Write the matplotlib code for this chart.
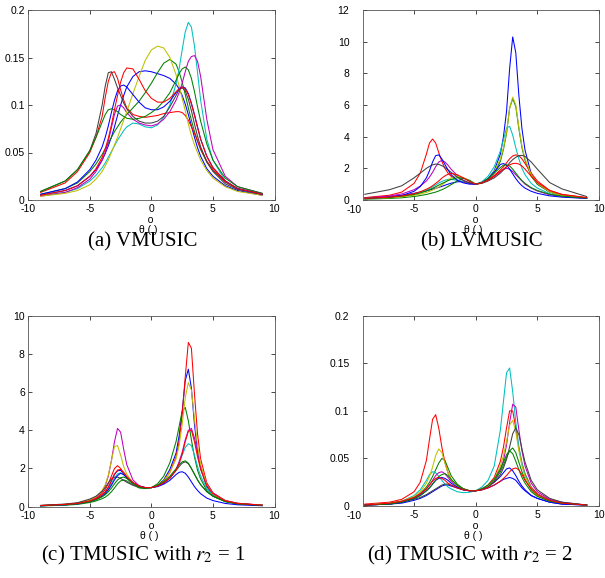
import numpy as np
import matplotlib
matplotlib.use("Agg")
import matplotlib.pyplot as plt
from matplotlib.transforms import blended_transform_factory

plt.rcParams.update({"font.family": "Liberation Sans", "font.size": 7.5,
                     "mathtext.fontset": "stix", "axes.linewidth": 0.6})

W, H = 605, 578
C = {"b": "#0000FF", "g": "#008000", "r": "#FF0000", "c": "#00BFBF",
     "m": "#BF00BF", "y": "#BFBF00", "k": "#404040"}

THETA = [-9, -7, -6, -5,
         -4.5, -4, -3.75, -3.5, -3.25, -3, -2.75, -2.5, -2.25, -2,
         -1.5, -1, -0.5, 0, 0.5, 1, 1.5, 2,
         2.25, 2.5, 2.75, 3, 3.25, 3.5, 3.75, 4,
         4.5, 5, 6, 7, 9]

# ---- (a) VMUSIC ----
vm_blue1 = [0.005, 0.010, 0.015, 0.025,
            0.032, 0.042, 0.049, 0.057, 0.066, 0.077, 0.089, 0.100, 0.110, 0.119,
            0.130, 0.135, 0.136, 0.135, 0.133, 0.131, 0.128, 0.122,
            0.117, 0.110, 0.101, 0.090, 0.078, 0.066, 0.055, 0.046,
            0.033, 0.025, 0.015, 0.010, 0.005]
vm_green1 = [0.006, 0.012, 0.018, 0.030,
             0.038, 0.048, 0.054, 0.060, 0.066, 0.072, 0.077, 0.082, 0.086, 0.090,
             0.097, 0.104, 0.113, 0.123, 0.134, 0.144, 0.148, 0.143,
             0.135, 0.124, 0.111, 0.097, 0.084, 0.072, 0.062, 0.053,
             0.040, 0.031, 0.019, 0.012, 0.006]
vm_red1 = [0.008, 0.018, 0.030, 0.050,
           0.066, 0.088, 0.108, 0.125, 0.134, 0.135, 0.128, 0.116, 0.105, 0.097,
           0.090, 0.088, 0.087, 0.088, 0.089, 0.091, 0.092, 0.093,
           0.093, 0.092, 0.089, 0.084, 0.077, 0.070, 0.062, 0.054,
           0.041, 0.032, 0.019, 0.012, 0.006]
vm_cyan = [0.005, 0.008, 0.012, 0.020,
           0.026, 0.034, 0.039, 0.045, 0.051, 0.057, 0.063, 0.068, 0.073, 0.077,
           0.081, 0.080, 0.077, 0.076, 0.079, 0.087, 0.100, 0.122,
           0.138, 0.158, 0.177, 0.187, 0.182, 0.162, 0.134, 0.105,
           0.064, 0.042, 0.020, 0.012, 0.006]
vm_magenta = [0.004, 0.008, 0.013, 0.022,
              0.030, 0.042, 0.050, 0.062, 0.076, 0.090, 0.099, 0.100, 0.097, 0.092,
              0.085, 0.081, 0.079, 0.078, 0.080, 0.085, 0.093, 0.105,
              0.113, 0.123, 0.135, 0.146, 0.151, 0.152, 0.146, 0.130,
              0.085, 0.053, 0.025, 0.014, 0.007]
vm_yellow = [0.004, 0.007, 0.010, 0.016,
             0.022, 0.030, 0.036, 0.042, 0.050, 0.058, 0.066, 0.075, 0.084, 0.093,
             0.112, 0.130, 0.147, 0.158, 0.162, 0.160, 0.150, 0.132,
             0.120, 0.107, 0.094, 0.080, 0.068, 0.058, 0.050, 0.042,
             0.031, 0.023, 0.014, 0.009, 0.005]
vm_black = [0.009, 0.020, 0.032, 0.052,
            0.070, 0.100, 0.120, 0.134, 0.135, 0.127, 0.118, 0.110, 0.102, 0.096,
            0.088, 0.083, 0.081, 0.081, 0.083, 0.088, 0.098, 0.110,
            0.116, 0.118, 0.115, 0.106, 0.094, 0.080, 0.067, 0.056,
            0.040, 0.030, 0.017, 0.011, 0.006]
vm_blue2 = [0.006, 0.012, 0.019, 0.032,
            0.042, 0.056, 0.066, 0.078, 0.092, 0.105, 0.115, 0.120, 0.121, 0.119,
            0.111, 0.103, 0.097, 0.095, 0.095, 0.098, 0.104, 0.113,
            0.117, 0.119, 0.118, 0.112, 0.102, 0.090, 0.077, 0.064,
            0.046, 0.034, 0.020, 0.012, 0.006]
vm_green2 = [0.009, 0.020, 0.032, 0.052,
             0.066, 0.082, 0.090, 0.095, 0.096, 0.095, 0.093, 0.090, 0.088, 0.086,
             0.085, 0.086, 0.088, 0.092, 0.097, 0.104, 0.113, 0.126,
             0.133, 0.138, 0.140, 0.137, 0.128, 0.114, 0.098, 0.083,
             0.059, 0.042, 0.023, 0.014, 0.007]
vm_red2 = [0.005, 0.010, 0.015, 0.025,
           0.033, 0.045, 0.054, 0.065, 0.079, 0.095, 0.110, 0.124, 0.134, 0.139,
           0.138, 0.127, 0.115, 0.107, 0.103, 0.103, 0.107, 0.114,
           0.117, 0.119, 0.117, 0.111, 0.101, 0.089, 0.076, 0.064,
           0.046, 0.034, 0.020, 0.012, 0.006]

# ---- (b) LVMUSIC ----
lv_blue1 = [0.13, 0.22, 0.30, 0.42,
            0.50, 0.58, 0.63, 0.68, 0.74, 0.80, 0.86, 0.93, 1.00, 1.06,
            1.15, 1.16, 1.09, 1.00, 1.10, 1.35, 1.85, 2.90,
            4.00, 5.60, 8.30, 10.3, 9.30, 6.60, 4.50, 3.15,
            1.65, 1.00, 0.50, 0.28, 0.13]
lv_green1 = [0.05, 0.10, 0.14, 0.22,
             0.28, 0.35, 0.40, 0.45, 0.50, 0.57, 0.65, 0.74, 0.85, 0.97,
             1.20, 1.38, 1.25, 1.00, 1.10, 1.30, 1.70, 2.45,
             3.20, 4.20, 5.80, 6.40, 5.90, 4.50, 3.30, 2.50,
             1.50, 1.00, 0.50, 0.28, 0.13]
lv_red1 = [0.15, 0.30, 0.50, 1.05,
           1.70, 2.90, 3.60, 3.85, 3.60, 3.00, 2.45, 2.00, 1.70, 1.50,
           1.25, 1.12, 1.05, 1.00, 1.10, 1.28, 1.55, 1.90,
           2.10, 2.35, 2.60, 2.78, 2.85, 2.80, 2.60, 2.30,
           1.70, 1.20, 0.60, 0.35, 0.15]
lv_cyan = [0.10, 0.18, 0.25, 0.38,
           0.48, 0.62, 0.72, 0.83, 0.95, 1.07, 1.17, 1.25, 1.30, 1.30,
           1.25, 1.17, 1.08, 1.00, 1.15, 1.50, 2.10, 3.10,
           3.80, 4.55, 4.65, 4.10, 3.30, 2.60, 2.00, 1.60,
           1.05, 0.75, 0.40, 0.25, 0.12]
lv_magenta = [0.12, 0.25, 0.38, 0.65,
              0.88, 1.20, 1.45, 1.75, 2.10, 2.40, 2.50, 2.40, 2.20, 1.95,
              1.55, 1.25, 1.08, 1.00, 1.08, 1.25, 1.50, 1.80,
              1.93, 2.00, 1.95, 1.80, 1.60, 1.40, 1.20, 1.00,
              0.75, 0.57, 0.33, 0.22, 0.10]
lv_yellow = [0.08, 0.14, 0.20, 0.30,
             0.38, 0.48, 0.55, 0.63, 0.72, 0.82, 0.95, 1.10, 1.25, 1.40,
             1.50, 1.40, 1.20, 1.00, 1.10, 1.35, 1.80, 2.60,
             3.30, 4.30, 5.80, 6.50, 6.00, 4.60, 3.40, 2.60,
             1.60, 1.05, 0.50, 0.28, 0.12]
lv_black = [0.36, 0.65, 0.90, 1.40,
            1.70, 2.00, 2.12, 2.22, 2.27, 2.25, 2.17, 2.05, 1.90, 1.75,
            1.45, 1.22, 1.07, 1.00, 1.05, 1.20, 1.40, 1.70,
            1.90, 2.10, 2.35, 2.55, 2.70, 2.80, 2.82, 2.75,
            2.40, 1.95, 1.10, 0.70, 0.22]
lv_blue2 = [0.08, 0.18, 0.28, 0.55,
            0.85, 1.40, 1.85, 2.40, 2.80, 2.85, 2.60, 2.25, 1.90, 1.60,
            1.25, 1.08, 1.00, 1.00, 1.10, 1.35, 1.75, 2.25,
            2.30, 2.20, 1.95, 1.65, 1.35, 1.10, 0.90, 0.75,
            0.55, 0.42, 0.26, 0.18, 0.10]
lv_green2 = [0.10, 0.17, 0.24, 0.35,
             0.45, 0.57, 0.65, 0.74, 0.84, 0.94, 1.04, 1.13, 1.22, 1.30,
             1.40, 1.38, 1.20, 1.00, 1.10, 1.35, 1.70, 2.05,
             2.20, 2.22, 2.15, 1.95, 1.70, 1.45, 1.22, 1.05,
             0.78, 0.60, 0.36, 0.24, 0.12]
lv_red2 = [0.10, 0.18, 0.26, 0.40,
           0.52, 0.68, 0.78, 0.90, 1.05, 1.20, 1.38, 1.52, 1.63, 1.68,
           1.60, 1.40, 1.17, 1.00, 1.08, 1.25, 1.50, 1.80,
           1.95, 2.10, 2.22, 2.30, 2.32, 2.27, 2.15, 1.95,
           1.50, 1.10, 0.60, 0.35, 0.15]

# ---- (c) TMUSIC, r2 = 1 ----
t1_red1 = [0.06, 0.12, 0.18, 0.32,
           0.45, 0.70, 0.90, 1.20, 1.60, 2.00, 2.15, 2.00, 1.75, 1.50,
           1.20, 1.05, 1.00, 1.00, 1.10, 1.35, 1.80, 2.60,
           3.40, 4.80, 6.80, 8.60, 8.30, 5.90, 3.80, 2.50,
           1.25, 0.72, 0.32, 0.18, 0.08]
t1_blue1 = [0.05, 0.10, 0.15, 0.28,
            0.40, 0.60, 0.76, 1.00, 1.35, 1.70, 1.88, 1.90, 1.75, 1.55,
            1.25, 1.07, 1.00, 1.00, 1.12, 1.40, 1.95, 2.80,
            3.70, 5.00, 6.60, 7.20, 6.20, 4.30, 2.90, 2.00,
            1.05, 0.62, 0.28, 0.15, 0.07]
t1_green1 = [0.04, 0.08, 0.12, 0.22,
             0.30, 0.42, 0.50, 0.62, 0.78, 0.98, 1.20, 1.35, 1.40, 1.35,
             1.15, 0.98, 0.95, 1.00, 1.20, 1.60, 2.30, 3.40,
             4.20, 5.00, 5.20, 4.50, 3.50, 2.60, 1.90, 1.45,
             0.85, 0.55, 0.26, 0.15, 0.07]
t1_cyan = [0.05, 0.10, 0.15, 0.27,
           0.38, 0.56, 0.70, 0.92, 1.20, 1.50, 1.72, 1.78, 1.68, 1.50,
           1.20, 1.05, 1.00, 1.00, 1.08, 1.25, 1.50, 1.95,
           2.30, 2.70, 3.10, 3.30, 3.20, 2.70, 2.10, 1.60,
           0.95, 0.60, 0.28, 0.16, 0.07]
t1_magenta = [0.06, 0.12, 0.18, 0.35,
              0.50, 0.82, 1.10, 1.60, 2.40, 3.40, 4.10, 3.90, 3.00, 2.20,
              1.40, 1.10, 1.00, 1.00, 1.08, 1.25, 1.50, 1.95,
              2.35, 2.85, 3.50, 4.00, 4.10, 3.60, 2.80, 2.10,
              1.20, 0.72, 0.32, 0.18, 0.08]
t1_yellow = [0.06, 0.12, 0.18, 0.35,
             0.52, 0.85, 1.15, 1.65, 2.40, 3.15, 3.20, 2.70, 2.10, 1.70,
             1.25, 1.05, 1.00, 1.00, 1.10, 1.35, 1.80, 2.50,
             3.20, 4.30, 5.70, 6.50, 6.10, 4.60, 3.20, 2.20,
             1.15, 0.67, 0.30, 0.16, 0.07]
t1_black = [0.07, 0.14, 0.21, 0.40,
            0.55, 0.80, 1.00, 1.25, 1.45, 1.55, 1.55, 1.48, 1.38, 1.28,
            1.12, 1.03, 1.00, 1.00, 1.08, 1.25, 1.50, 1.90,
            2.10, 2.28, 2.35, 2.25, 2.00, 1.70, 1.40, 1.15,
            0.80, 0.55, 0.28, 0.16, 0.07]
t1_blue2 = [0.05, 0.10, 0.15, 0.27,
            0.38, 0.55, 0.68, 0.88, 1.12, 1.40, 1.63, 1.75, 1.68, 1.52,
            1.25, 1.08, 1.00, 1.00, 1.05, 1.18, 1.38, 1.68,
            1.80, 1.83, 1.75, 1.55, 1.30, 1.05, 0.85, 0.68,
            0.45, 0.32, 0.17, 0.10, 0.05]
t1_green2 = [0.05, 0.10, 0.15, 0.26,
             0.36, 0.52, 0.63, 0.78, 0.97, 1.20, 1.40, 1.52, 1.55, 1.48,
             1.22, 1.02, 0.96, 1.00, 1.12, 1.32, 1.60, 1.98,
             2.20, 2.35, 2.40, 2.28, 2.00, 1.70, 1.40, 1.15,
             0.78, 0.55, 0.27, 0.15, 0.07]
t1_red2 = [0.06, 0.12, 0.17, 0.30,
           0.42, 0.62, 0.78, 1.02, 1.35, 1.70, 1.92, 1.95, 1.80, 1.58,
           1.27, 1.08, 1.00, 1.00, 1.08, 1.25, 1.50, 1.90,
           2.25, 2.75, 3.40, 3.95, 4.00, 3.40, 2.60, 1.95,
           1.10, 0.68, 0.31, 0.17, 0.08]

# ---- (d) TMUSIC, r2 = 2 ----
t2_blue1 = [0.001, 0.002, 0.003, 0.006,
            0.008, 0.011, 0.013, 0.015, 0.017, 0.019, 0.021, 0.022, 0.022, 0.021,
            0.019, 0.017, 0.016, 0.016, 0.018, 0.021, 0.025, 0.031,
            0.035, 0.039, 0.040, 0.037, 0.032, 0.026, 0.021, 0.017,
            0.011, 0.008, 0.004, 0.002, 0.001]
t2_green1 = [0.001, 0.003, 0.005, 0.009,
             0.013, 0.020, 0.025, 0.031, 0.038, 0.045, 0.050, 0.048, 0.040, 0.032,
             0.023, 0.018, 0.016, 0.016, 0.018, 0.021, 0.026, 0.036,
             0.043, 0.051, 0.058, 0.061, 0.056, 0.046, 0.036, 0.028,
             0.017, 0.011, 0.005, 0.003, 0.001]
t2_red1 = [0.002, 0.004, 0.007, 0.015,
           0.025, 0.048, 0.070, 0.091, 0.096, 0.082, 0.062, 0.046, 0.035, 0.028,
           0.021, 0.018, 0.016, 0.016, 0.018, 0.022, 0.030, 0.047,
           0.062, 0.082, 0.100, 0.100, 0.082, 0.061, 0.045, 0.034,
           0.020, 0.013, 0.006, 0.003, 0.001]
t2_cyan = [0.001, 0.003, 0.005, 0.011,
           0.017, 0.027, 0.033, 0.036, 0.035, 0.031, 0.027, 0.023, 0.020, 0.018,
           0.015, 0.014, 0.0145, 0.016, 0.020, 0.027, 0.042, 0.080,
           0.110, 0.140, 0.145, 0.120, 0.088, 0.062, 0.045, 0.033,
           0.019, 0.012, 0.006, 0.003, 0.001]
t2_magenta = [0.001, 0.002, 0.004, 0.008,
              0.012, 0.018, 0.022, 0.027, 0.032, 0.035, 0.036, 0.034, 0.030, 0.026,
              0.021, 0.018, 0.016, 0.016, 0.018, 0.021, 0.027, 0.038,
              0.048, 0.064, 0.088, 0.107, 0.104, 0.080, 0.058, 0.042,
              0.024, 0.015, 0.007, 0.004, 0.001]
t2_yellow = [0.001, 0.003, 0.005, 0.010,
             0.015, 0.024, 0.031, 0.041, 0.053, 0.060, 0.056, 0.045, 0.035, 0.028,
             0.021, 0.018, 0.016, 0.016, 0.018, 0.021, 0.028, 0.042,
             0.053, 0.068, 0.085, 0.090, 0.078, 0.058, 0.042, 0.031,
             0.018, 0.011, 0.005, 0.003, 0.001]
t2_black = [0.001, 0.002, 0.004, 0.007,
            0.009, 0.012, 0.014, 0.016, 0.018, 0.020, 0.022, 0.023, 0.023, 0.022,
            0.019, 0.017, 0.016, 0.016, 0.017, 0.020, 0.025, 0.033,
            0.040, 0.049, 0.062, 0.076, 0.082, 0.075, 0.060, 0.046,
            0.027, 0.017, 0.008, 0.004, 0.001]
t2_blue2 = [0.001, 0.002, 0.004, 0.008,
            0.011, 0.016, 0.019, 0.023, 0.027, 0.029, 0.030, 0.029, 0.027, 0.024,
            0.020, 0.017, 0.016, 0.016, 0.017, 0.019, 0.022, 0.026,
            0.028, 0.029, 0.030, 0.029, 0.027, 0.023, 0.019, 0.016,
            0.011, 0.008, 0.004, 0.002, 0.001]
t2_green2 = [0.001, 0.002, 0.004, 0.008,
             0.011, 0.016, 0.019, 0.023, 0.027, 0.031, 0.033, 0.034, 0.032, 0.028,
             0.022, 0.018, 0.016, 0.016, 0.018, 0.022, 0.028, 0.039,
             0.046, 0.054, 0.058, 0.055, 0.047, 0.038, 0.030, 0.024,
             0.015, 0.010, 0.005, 0.003, 0.001]
t2_red2 = [0.001, 0.003, 0.005, 0.009,
           0.013, 0.018, 0.022, 0.026, 0.029, 0.030, 0.029, 0.027, 0.024, 0.022,
           0.019, 0.017, 0.016, 0.016, 0.017, 0.019, 0.022, 0.026,
           0.029, 0.032, 0.036, 0.039, 0.040, 0.038, 0.033, 0.027,
           0.018, 0.012, 0.006, 0.003, 0.001]

PANELS = [
    {"curves": [("b", vm_blue1), ("g", vm_green1), ("r", vm_red1), ("c", vm_cyan),
                ("m", vm_magenta), ("y", vm_yellow), ("k", vm_black),
                ("b", vm_blue2), ("g", vm_green2), ("r", vm_red2)],
     "yticks": [0, 0.05, 0.1, 0.15, 0.2], "ylabels": ["0", "0.05", "0.1", "0.15", "0.2"],
     "box": (28.3, 274.5, 10, 200), "x0": -10, "cap": "(a) VMUSIC", "cap_xy": (143, 242),
     "lab_xy": (148, 225), "ypad": 2.5},
    {"curves": [("b", lv_blue1), ("g", lv_green1), ("r", lv_red1), ("c", lv_cyan),
                ("m", lv_magenta), ("y", lv_yellow), ("k", lv_black),
                ("b", lv_blue2), ("g", lv_green2), ("r", lv_red2)],
     "yticks": [0, 2, 4, 6, 8, 10, 12], "ylabels": ["0", "2", "4", "6", "8", "10", "12"],
     "box": (363.3, 599, 10, 200), "x0": -9.12, "cap": "(b) LVMUSIC", "cap_xy": (482, 242),
     "lab_xy": (473, 225), "ypad": 10},
    {"curves": [("b", t1_blue1), ("g", t1_green1), ("r", t1_red1), ("c", t1_cyan),
                ("m", t1_magenta), ("y", t1_yellow), ("k", t1_black),
                ("b", t1_blue2), ("g", t1_green2), ("r", t1_red2)],
     "yticks": [0, 2, 4, 6, 8, 10], "ylabels": ["0", "2", "4", "6", "8", "10"],
     "box": (28.3, 274.5, 315.7, 506.7), "x0": -10,
     "cap": "(c) TMUSIC with $r_2$ = 1", "cap_xy": (143, 555), "lab_xy": (149, 531),
     "ypad": 2.5},
    {"curves": [("b", t2_blue1), ("g", t2_green1), ("r", t2_red1), ("c", t2_cyan),
                ("m", t2_magenta), ("y", t2_yellow), ("k", t2_black),
                ("b", t2_blue2), ("g", t2_green2), ("r", t2_red2)],
     "yticks": [0, 0.05, 0.1, 0.15, 0.2], "ylabels": ["0", "0.05", "0.1", "0.15", "0.2"],
     "box": (363.3, 599, 315.7, 506), "x0": -9.12,
     "cap": "(d) TMUSIC with $r_2$ = 2", "cap_xy": (470, 555), "lab_xy": (473, 531),
     "ypad": 10},
]

fig = plt.figure(figsize=(W / 100, H / 100), dpi=100)

for p in PANELS:
    x1, x2, yt, yb = p["box"]
    ax = fig.add_axes([x1 / W, 1 - yb / H, (x2 - x1) / W, (yb - yt) / H])
    for col, vals in p["curves"]:
        assert len(vals) == len(THETA)
        ax.plot(THETA, vals, color=C[col], lw=0.75)
    ax.set_xlim(p["x0"], 10)
    ax.set_ylim(p["yticks"][0], p["yticks"][-1])
    xt = [t for t in [-10, -5, 0, 5, 10] if t >= p["x0"]]
    ax.set_xticks(xt)
    ax.set_xticklabels([str(t) for t in xt])
    ax.set_yticks(p["yticks"])
    ax.set_yticklabels(p["ylabels"])
    ax.tick_params(direction="in", length=3, width=0.5, top=True, right=True)
    ax.tick_params(axis="x", pad=3)
    ax.tick_params(axis="y", pad=p["ypad"])
    for s in ax.spines.values():
        s.set_color("#555555")
    if p["x0"] > -10:
        # the -10 label sits just left of the clipped box, as in the original
        tr = blended_transform_factory(ax.transData, ax.transAxes)
        ax.annotate("-10", xy=(-10, 0), xycoords=tr, xytext=(1, -3.5),
                    textcoords="offset points", ha="center", va="top",
                    annotation_clip=False)
    # x label: theta with the degree "o" floating above the empty brackets
    lx, ly = p["lab_xy"]
    fig.text(lx / W, 1 - ly / H, "  o\nθ ( )", ha="center", va="center",
             multialignment="center", linespacing=0.95, fontsize=7.5)
    cx, cy = p["cap_xy"]
    fig.text(cx / W, 1 - cy / H, p["cap"], ha="center", va="center",
             fontsize=15, family="Liberation Serif")

fig.savefig("out.png", dpi=100)
